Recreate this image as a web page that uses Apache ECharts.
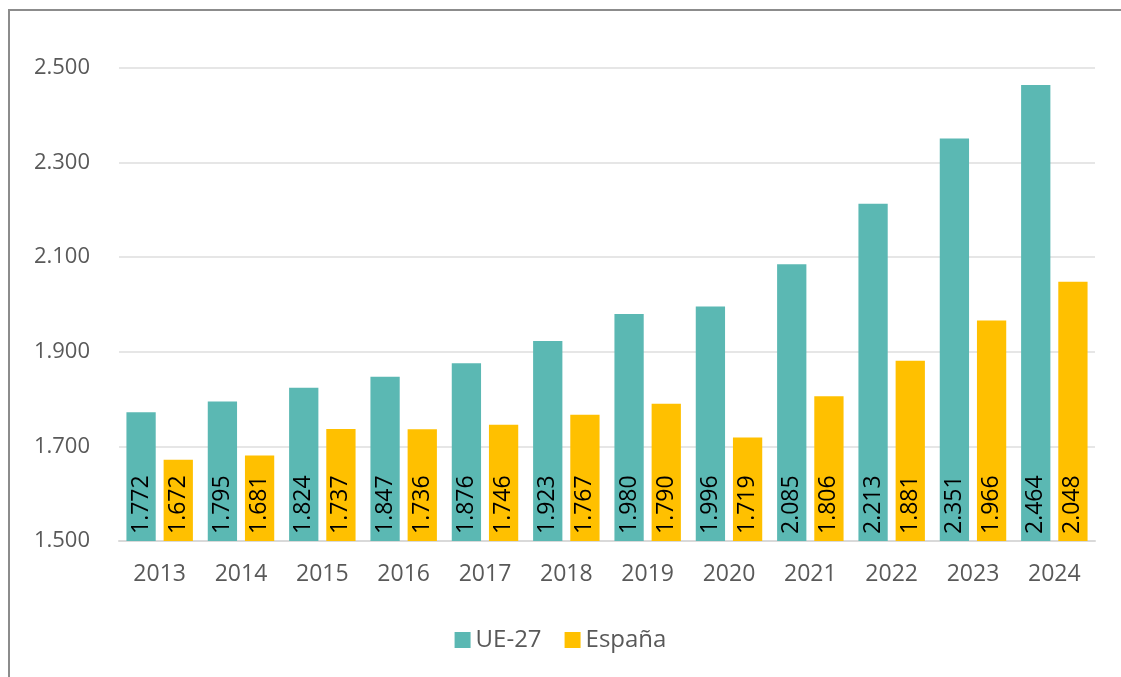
<!DOCTYPE html>
<html lang="es">
<head>
  <meta charset="UTF-8">
  <title>UE-27 vs España</title>
  <style>
    html, body { margin: 0; padding: 0; background: #fff; }
    #frame { position: absolute; left: 8px; top: 9px; width: 1130px; height: 690px; border: 2px solid #8c8c8c; box-sizing: border-box; }
    #chart { position: absolute; left: 0; top: 0; width: 1121px; height: 677px; }
  </style>
  <script src="https://cdn.jsdelivr.net/npm/echarts@6/dist/echarts.min.js"></script>
</head>
<body>
<div id="frame"></div>
<div id="chart"></div>
<script>
  const years = ['2013', '2014', '2015', '2016', '2017', '2018', '2019', '2020', '2021', '2022', '2023', '2024'];
  const ue27 = [1772, 1795, 1824, 1847, 1876, 1923, 1980, 1996, 2085, 2213, 2351, 2464];
  const espana = [1672, 1681, 1737, 1736, 1746, 1767, 1790, 1719, 1806, 1881, 1966, 2048];

  const fmt = v => {
    const s = String(v);
    return s.length > 3 ? s.slice(0, s.length - 3) + '.' + s.slice(-3) : s;
  };
  const font = '"Open Sans", "Liberation Sans", sans-serif';

  const barLabel = {
    show: true,
    position: 'insideBottom',
    rotate: 90,
    align: 'left',
    verticalAlign: 'middle',
    distance: 7,
    color: '#000',
    fontFamily: font,
    fontSize: 23,
    formatter: p => fmt(p.value)
  };

  const chart = echarts.init(document.getElementById('chart'));
  chart.setOption({
    animation: false,
    grid: { left: 119, right: 26, top: 68, bottom: 136 },
    legend: {
      bottom: 20,
      left: 'center',
      itemWidth: 16,
      itemHeight: 16,
      itemGap: 23,
      icon: 'rect',
      textStyle: { color: '#595959', fontSize: 24, fontFamily: font }
    },
    xAxis: {
      type: 'category',
      data: years,
      axisLine: { lineStyle: { color: '#d9d9d9', width: 2 } },
      axisTick: { show: false },
      axisLabel: { color: '#595959', fontSize: 23, fontFamily: font, margin: 22 }
    },
    yAxis: {
      type: 'value',
      min: 1500,
      max: 2500,
      interval: 200,
      axisLine: { show: false },
      axisTick: { show: false },
      splitLine: { lineStyle: { color: '#e6e6e6', width: 2 } },
      axisLabel: { color: '#595959', fontSize: 22, fontFamily: font, margin: 29, formatter: v => fmt(v) }
    },
    series: [
      {
        name: 'UE-27', type: 'bar', data: ue27,
        itemStyle: { color: '#5bb8b3' },
        barWidth: '36%', barGap: '27%',
        label: barLabel
      },
      {
        name: 'España', type: 'bar', data: espana,
        itemStyle: { color: '#ffc000' },
        barWidth: '36%',
        label: barLabel
      }
    ]
  });
</script>
</body>
</html>
